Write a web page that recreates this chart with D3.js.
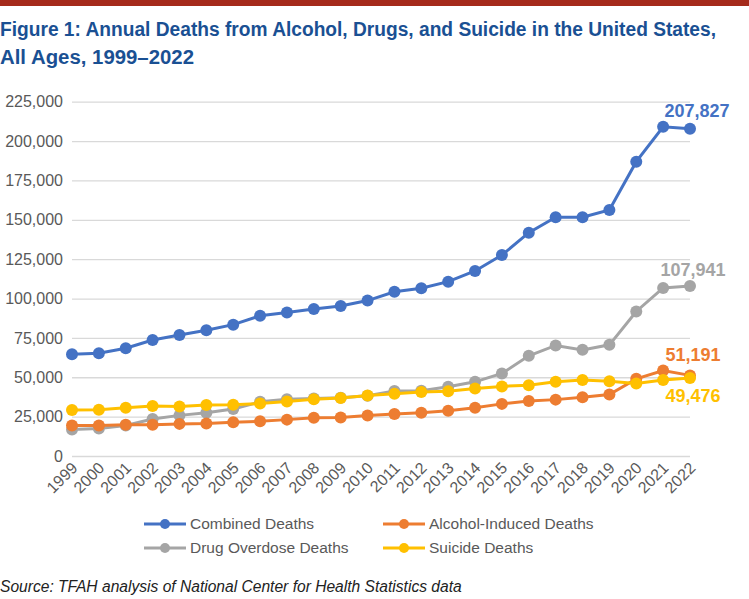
<!DOCTYPE html>
<html>
<head>
<meta charset="utf-8">
<script src="https://d3js.org/d3.v7.min.js"></script>
<style>
  body { margin: 0; background: #fff; }
  svg { display: block; }
</style>
</head>
<body>
<svg width="749" height="599"></svg>
<script>
const years = [1999, 2000, 2001, 2002, 2003, 2004, 2005, 2006, 2007, 2008, 2009, 2010,
               2011, 2012, 2013, 2014, 2015, 2016, 2017, 2018, 2019, 2020, 2021, 2022]
const combined = [64600, 65200, 68400, 73700, 76800, 79800, 83400, 89100, 91200, 93400, 95300, 98700,
                  104300, 106500, 110700, 117500, 127600, 141800, 151600, 151600, 156200, 186900, 209100, 207827]
const alcohol = [19300, 19400, 19900, 19900, 20400, 20700, 21400, 22000, 23100, 24300, 24500, 25700,
                 26600, 27500, 28800, 30700, 33100, 34900, 35800, 37300, 39000, 49000, 54300, 51191]
const drugs = [16800, 17400, 19400, 23500, 25800, 27400, 29800, 34400, 36000, 36500, 37000, 38300,
               41300, 41500, 44000, 47100, 52400, 63600, 70200, 67400, 70600, 91800, 106700, 107941]
const suicide = [29200, 29400, 30600, 31700, 31500, 32400, 32600, 33300, 34600, 36000, 36900, 38400,
                 39500, 40600, 41100, 42800, 44200, 45000, 47200, 48300, 47500, 46000, 48200, 49476]
const seriesNames = ["Combined Deaths", "Alcohol-Induced Deaths", "Drug Overdose Deaths", "Suicide Deaths"]
const seriesColors = ["#4472C4", "#ED7D31", "#A5A5A5", "#FFC000"]
const yTicks = [0, 25000, 50000, 75000, 100000, 125000, 150000, 175000, 200000, 225000]

const svg = d3.select("svg")
const x = d3.scalePoint().domain(years).range([72, 690])
const y = d3.scaleLinear().domain([0, 225000]).range([456, 101.7])

// red band + title
svg.append("rect").attr("x", 0).attr("y", 0).attr("width", 749).attr("height", 6).attr("fill", "#A52A1B")
const titleFont = "Liberation Sans, Arial, sans-serif"
svg.append("text").attr("x", 0).attr("y", 36)
  .attr("font-family", titleFont).attr("font-weight", "bold").attr("font-size", 20)
  .attr("fill", "#1A5093")
  .attr("textLength", 716).attr("lengthAdjust", "spacingAndGlyphs")
  .text("Figure 1: Annual Deaths from Alcohol, Drugs, and Suicide in the United States,")
svg.append("text").attr("x", 0).attr("y", 64)
  .attr("font-family", titleFont).attr("font-weight", "bold").attr("font-size", 20)
  .attr("fill", "#1A5093")
  .attr("textLength", 194).attr("lengthAdjust", "spacingAndGlyphs")
  .text("All Ages, 1999\u20132022")

// y grid + labels
const yAxis = svg.append("g").attr("transform", "translate(72,0)")
  .call(d3.axisLeft(y).tickValues(yTicks).tickSize(-618).tickPadding(9)
    .tickFormat(d3.format(",")))
yAxis.select(".domain").remove()
yAxis.selectAll(".tick line").attr("stroke", "#D9D9D9").attr("stroke-width", 1.3)
yAxis.selectAll(".tick text").attr("font-family", "Liberation Sans, Arial, sans-serif")
  .attr("font-size", 16).attr("fill", "#595959")

// x labels
const xAxis = svg.append("g").attr("transform", "translate(0,456)")
  .call(d3.axisBottom(x).tickSize(0).tickPadding(0))
xAxis.select(".domain").remove()
xAxis.selectAll(".tick text")
  .attr("font-family", "Liberation Sans, Arial, sans-serif")
  .attr("font-size", 16).attr("fill", "#595959")
  .attr("text-anchor", "end").attr("dy", "0")
  .attr("transform", "translate(6,13) rotate(-45)")

// lines
const allSeries = [combined, alcohol, drugs, suicide]
const drawOrder = [0, 2, 1, 3]
const line = d3.line().x((d, i) => x(years[i])).y(d => y(d))
drawOrder.forEach(k => {
  const g = svg.append("g")
  g.append("path").datum(allSeries[k]).attr("d", line)
    .attr("fill", "none").attr("stroke", seriesColors[k]).attr("stroke-width", 3)
  g.selectAll("circle").data(allSeries[k]).join("circle")
    .attr("cx", (d, i) => x(years[i])).attr("cy", d => y(d)).attr("r", 6)
    .attr("fill", seriesColors[k])
})

// end labels
const endLabels = [
  { k: 0, dy: -12, dx: 7 },
  { k: 2, dy: -10, dx: 3 },
  { k: 1, dy: -14, dx: 3 },
  { k: 3, dy: 24, dx: 3 }
]
endLabels.forEach(l => {
  const v = allSeries[l.k][years.length - 1]
  svg.append("text")
    .attr("x", x(2022) + l.dx).attr("y", y(v) + l.dy)
    .attr("text-anchor", "middle")
    .attr("font-family", "Liberation Sans, Arial, sans-serif")
    .attr("font-weight", "bold").attr("font-size", 18)
    .attr("fill", seriesColors[l.k])
    .text(d3.format(",")(v))
})

// legend
const legendPos = [[144, 524], [383, 524], [144, 548], [383, 548]]
seriesNames.forEach((name, k) => {
  const [lx, ly] = legendPos[k]
  const g = svg.append("g").attr("transform", `translate(${lx},${ly})`)
  g.append("line").attr("x1", 0).attr("x2", 42).attr("y1", 0).attr("y2", 0)
    .attr("stroke", seriesColors[k]).attr("stroke-width", 3)
  g.append("circle").attr("cx", 21).attr("cy", 0).attr("r", 5).attr("fill", seriesColors[k])
  g.append("text").attr("x", 46).attr("y", 0).attr("dy", "0.35em")
    .attr("font-family", "Liberation Sans, Arial, sans-serif")
    .attr("font-size", 15.5).attr("fill", "#595959").text(name)
})

// source
svg.append("text").attr("x", 0).attr("y", 592)
  .attr("font-family", "Liberation Sans, Arial, sans-serif")
  .attr("font-style", "italic").attr("font-size", 15.6).attr("fill", "#222")
  .text("Source: TFAH analysis of National Center for Health Statistics data")
</script>
</body>
</html>
